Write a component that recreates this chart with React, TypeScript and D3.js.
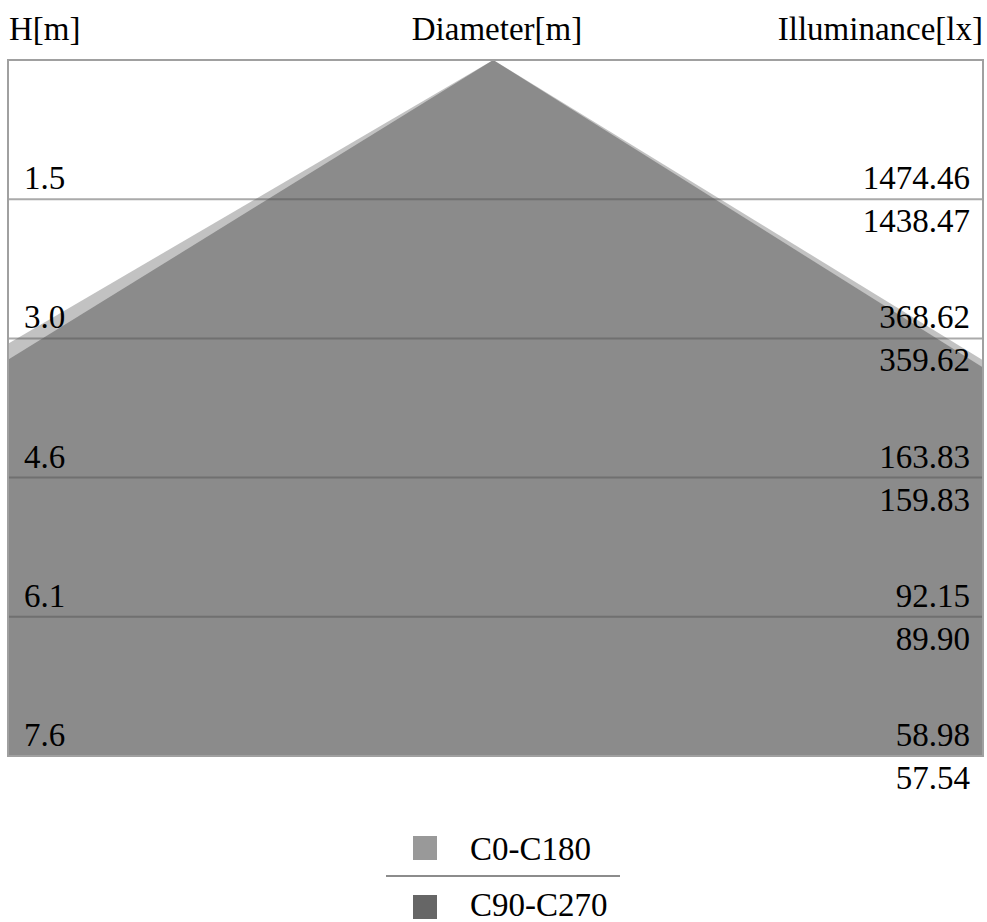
import React from "react";
import * as d3 from "d3";

// ---- data ----
const heights = [1.524, 3.048, 4.572, 6.096, 7.62]; // m (labels shown with 1 decimal)
const illumC0 = [1474.46, 368.62, 163.83, 92.15, 58.98];
const illumC90 = [1438.47, 359.62, 159.83, 89.9, 57.54];
const seriesNames = ["C0-C180", "C90-C270"];
const seriesColors = ["#999999", "#666666"];
// half-diameters (left, right) in metres at the first height level
const halfDiamLeft = [2.61, 2.47];
const halfDiamRight = [2.49, 2.43];
const headers = ["H[m]", "Diameter[m]", "Illuminance[lx]"];

const W = 987;
const H = 922;
const box = { x0: 8, x1: 983, y0: 60, y1: 756 };
const FONT = "'Liberation Serif', 'Times New Roman', serif";
const FS = 33;

export default function App() {
  const y = d3.scaleLinear().domain([0, heights[heights.length - 1]]).range([box.y0, box.y1]);
  const x = d3.scaleLinear().domain([-5.32, 5.37]).range([box.x0, box.x1]);
  const hMax = heights[heights.length - 1];
  const line = d3.line<[number, number]>().x((d) => x(d[0])).y((d) => y(d[1]));

  const polys = seriesNames.map((_, i) => {
    const kL = halfDiamLeft[i] / heights[0];
    const kR = halfDiamRight[i] / heights[0];
    const pts: [number, number][] = [
      [0, 0],
      [kR * hMax, hMax],
      [-kL * hMax, hMax],
    ];
    return line(pts) + "Z";
  });

  return (
    <svg width={W} height={H} style={{ position: "absolute", left: 0, top: 0, fontFamily: FONT }}>
      <defs>
        <clipPath id="boxclip">
          <rect x={box.x0} y={box.y0} width={box.x1 - box.x0} height={box.y1 - box.y0} />
        </clipPath>
      </defs>
      <rect width={W} height={H} fill="#ffffff" />
      {/* headers */}
      <text x={9} y={40} fontSize={FS} fill="#000">{headers[0]}</text>
      <text x={497} y={40} fontSize={FS} fill="#000" textAnchor="middle">{headers[1]}</text>
      <text x={983} y={40} fontSize={FS} fill="#000" textAnchor="end">{headers[2]}</text>

      <g clipPath="url(#boxclip)">
        {polys.map((p, i) => (
          <path key={i} d={p!} fill={seriesColors[i]} fillOpacity={0.6} />
        ))}
      </g>
      {/* level lines */}
      {heights.slice(0, -1).map((h, i) => (
        <line key={i} x1={box.x0} x2={box.x1} y1={y(h)} y2={y(h)} stroke="#555" strokeOpacity={0.5} strokeWidth={2} />
      ))}
      {/* box */}
      <rect x={box.x0} y={box.y0} width={box.x1 - box.x0} height={box.y1 - box.y0} fill="none" stroke="#a0a0a0" strokeWidth={2} />

      {/* labels */}
      {heights.map((h, i) => (
        <g key={i}>
          <text x={24} y={y(h) - 10} fontSize={FS} fill="#000">{d3.format(".1f")(h)}</text>
          <text x={970} y={y(h) - 10} fontSize={FS} fill="#000" textAnchor="end">{d3.format(".2f")(illumC0[i])}</text>
          <text x={970} y={y(h) + 33} fontSize={FS} fill="#000" textAnchor="end">{d3.format(".2f")(illumC90[i])}</text>
        </g>
      ))}

      {/* legend */}
      <rect x={413} y={836} width={24} height={24} fill={seriesColors[0]} />
      <text x={470} y={860} fontSize={FS} fill="#000">{seriesNames[0]}</text>
      <line x1={386} x2={620} y1={876} y2={876} stroke="#666" strokeWidth={1.5} />
      <rect x={413} y={895} width={24} height={24} fill={seriesColors[1]} />
      <text x={470} y={916} fontSize={FS} fill="#000">{seriesNames[1]}</text>
    </svg>
  );
}
